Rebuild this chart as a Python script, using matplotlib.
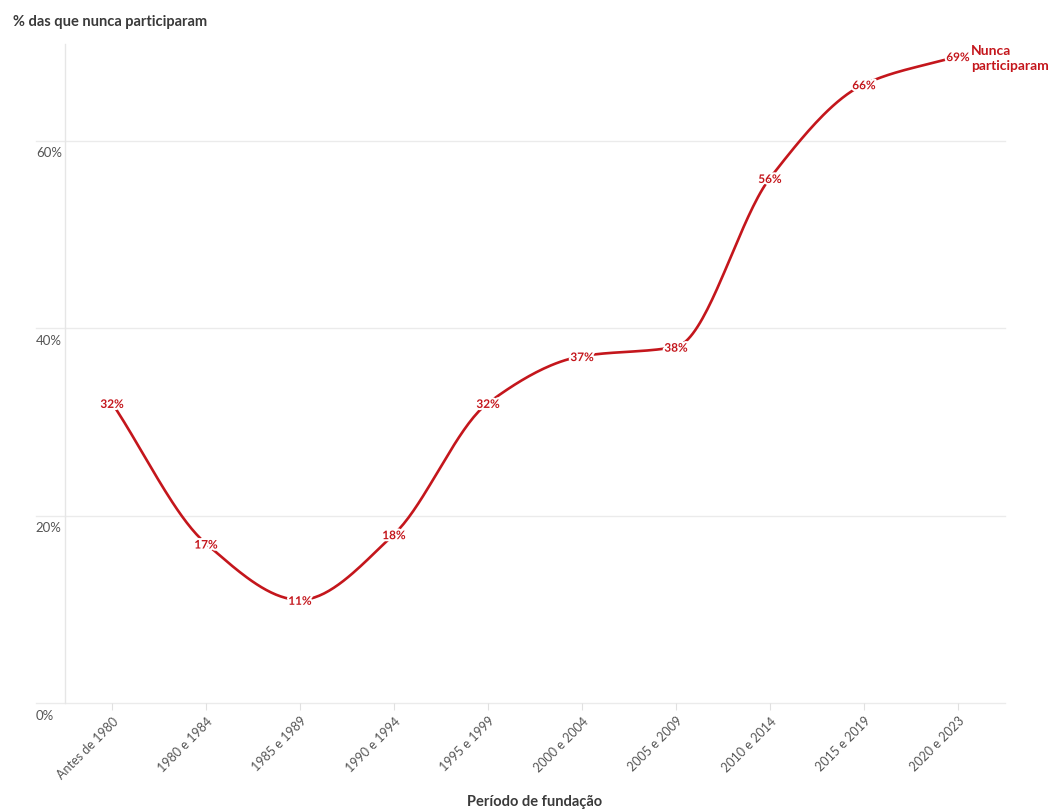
import matplotlib
matplotlib.use('Agg')
import matplotlib.pyplot as plt
import matplotlib.patheffects as pe
import numpy as np

# data
periods = ['Antes de 1980', '1980 e 1984', '1985 e 1989', '1990 e 1994', '1995 e 1999',
           '2000 e 2004', '2005 e 2009', '2010 e 2014', '2015 e 2019', '2020 e 2023']
values = [32, 17, 11, 18, 32, 37, 38, 56, 66, 69]
yticks = [0, 20, 40, 60]
series_name = 'Nunca\nparticiparam'

red = '#c4161c'
grey_text = '#555555'
dark_text = '#3a3a3a'

plt.rcParams['font.family'] = ['Lato', 'DejaVu Sans']


def monotone_curve(x, y, n=40):
    # monotone cubic (Fritsch-Carlson) for a smooth line through the points
    x = np.asarray(x, float)
    y = np.asarray(y, float)
    h = np.diff(x)
    d = np.diff(y) / h
    m = np.zeros_like(y)
    m[0], m[-1] = d[0], d[-1]
    for i in range(1, len(y) - 1):
        if d[i - 1] * d[i] <= 0:
            m[i] = 0
        else:
            w1 = 2 * h[i] + h[i - 1]
            w2 = h[i] + 2 * h[i - 1]
            m[i] = (w1 + w2) / (w1 / d[i - 1] + w2 / d[i])
    xs, ys = [], []
    for i in range(len(x) - 1):
        t = np.linspace(0, 1, n)
        h00 = 2 * t**3 - 3 * t**2 + 1
        h10 = t**3 - 2 * t**2 + t
        h01 = -2 * t**3 + 3 * t**2
        h11 = t**3 - t**2
        xs.append(x[i] + t * h[i])
        ys.append(h00 * y[i] + h10 * h[i] * m[i] + h01 * y[i + 1] + h11 * h[i] * m[i + 1])
    return np.concatenate(xs), np.concatenate(ys)


fig = plt.figure(figsize=(10.52, 8.12), dpi=100)
ax = fig.add_axes([65 / 1052, 1 - 704 / 812, 940 / 1052, 659 / 812])

xpos = np.arange(len(periods))
ax.set_xlim(-0.5, len(periods) - 0.5)
ax.set_ylim(0, 70.3)

# gridlines (extend left under the tick labels)
for yv in yticks:
    ax.plot([-0.81, len(periods) - 0.5], [yv, yv], color='#ebebeb', lw=1.0, clip_on=False, zorder=0)
    ax.text(-0.81, yv - 0.6, f'{yv}%', ha='left', va='top', fontsize=9.5, color=grey_text)

# curve
cx, cy = monotone_curve(xpos, values)
ax.plot(cx, cy, color=red, lw=1.9, solid_capstyle='round', zorder=2)

# point labels
for xi, v in zip(xpos, values):
    ax.text(xi, v - 0.15, f'{v}%', ha='center', va='center', fontsize=8.5, fontweight='bold', color=red,
            zorder=3, path_effects=[pe.withStroke(linewidth=3, foreground='white')])

ax.text(xpos[-1] + 0.14, values[-1] + 1.3, series_name, ha='left', va='top', fontsize=10,
        fontweight='bold', color=red, linespacing=1.3)

# axes styling
for s in ['top', 'right', 'bottom']:
    ax.spines[s].set_visible(False)
ax.spines['left'].set_color('#e6e6e6')
ax.spines['left'].set_linewidth(1.0)
ax.set_yticks([])
ax.set_xticks(xpos)
ax.set_xticklabels(periods, rotation=45, ha='right', rotation_mode='anchor', fontsize=9, color=grey_text)
ax.tick_params(axis='x', length=5, color='#e0e0e0', pad=3)

ax.set_xlabel('Período de fundação', fontsize=10.5, fontweight='bold', color=dark_text)
ax.xaxis.set_label_coords(0.5, -0.138)

fig.text(13 / 1052, 1 - 22 / 812, '% das que nunca participaram', ha='left', va='center',
         fontsize=10.5, fontweight='bold', color=dark_text)

plt.savefig('out.png', dpi=100)
